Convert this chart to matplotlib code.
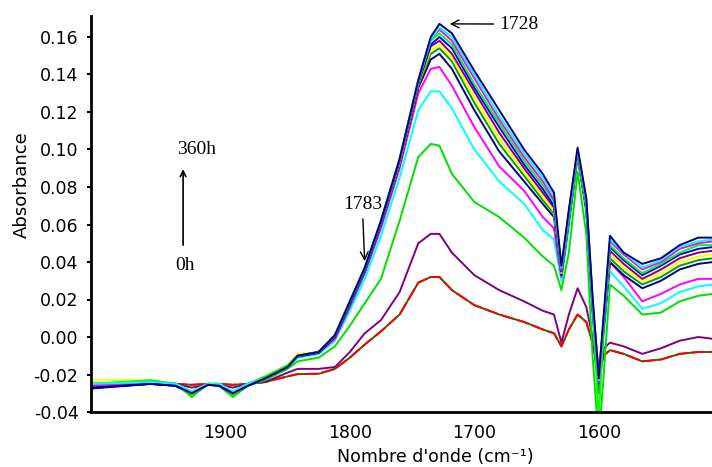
import matplotlib.pyplot as plt

wavenumber = [2008, 1960, 1940, 1927, 1914, 1905, 1894, 1882, 1868, 1850,
              1842, 1825, 1812, 1800, 1788, 1775, 1760, 1745, 1735, 1728,
              1718, 1700, 1680, 1660, 1645, 1636, 1630, 1624, 1617, 1610,
              1605, 1600, 1596, 1591, 1580, 1565, 1550, 1535, 1520, 1508]

# absorbance spectra, from 0h up to 360h
abs_0h = [-0.025, -0.025, -0.025, -0.0255, -0.025, -0.025, -0.0255, -0.025, -0.024, -0.021,
          -0.0198, -0.0196, -0.017, -0.011, -0.004, 0.003, 0.012, 0.029, 0.032, 0.032,
          0.025, 0.017, 0.012, 0.008, 0.004, 0.002, -0.005, 0.004, 0.012, 0.008,
          -0.003, -0.019, -0.010, -0.007, -0.009, -0.013, -0.012, -0.009, -0.008, -0.008]
abs_purple = [-0.025, -0.0245, -0.025, -0.027, -0.0255, -0.0255, -0.027, -0.025, -0.024, -0.019,
              -0.017, -0.017, -0.016, -0.008, 0.002, 0.009, 0.024, 0.050, 0.055, 0.055,
              0.045, 0.033, 0.025, 0.019, 0.014, 0.012, -0.003, 0.012, 0.026, 0.016,
              0.000, -0.028, -0.006, -0.003, -0.005, -0.009, -0.006, -0.002, 0.000, -0.001]
abs_lime = [-0.025, -0.024, -0.025, -0.032, -0.025, -0.026, -0.032, -0.026, -0.023, -0.017,
            -0.013, -0.011, -0.005, 0.006, 0.018, 0.031, 0.062, 0.096, 0.103, 0.102,
            0.087, 0.072, 0.064, 0.053, 0.043, 0.038, 0.025, 0.045, 0.088, 0.055,
            -0.010, -0.055, -0.020, 0.028, 0.022, 0.012, 0.013, 0.019, 0.022, 0.023]
abs_cyan = [-0.025, -0.0235, -0.025, -0.030, -0.025, -0.025, -0.030, -0.025, -0.022, -0.016,
            -0.011, -0.009, -0.002, 0.014, 0.031, 0.054, 0.085, 0.121, 0.131, 0.131,
            0.122, 0.100, 0.083, 0.071, 0.057, 0.052, 0.030, 0.058, 0.096, 0.065,
            0.010, -0.030, 0.000, 0.035, 0.027, 0.015, 0.018, 0.024, 0.027, 0.028]
abs_magenta = [-0.026, -0.025, -0.026, -0.030, -0.0255, -0.026, -0.030, -0.025, -0.022, -0.016,
               -0.010, -0.0085, -0.001, 0.016, 0.034, 0.058, 0.090, 0.130, 0.143, 0.144,
               0.134, 0.112, 0.091, 0.078, 0.064, 0.058, 0.032, 0.062, 0.098, 0.068,
               0.015, -0.025, 0.005, 0.040, 0.032, 0.019, 0.023, 0.028, 0.031, 0.031]
abs_c1 = [-0.0275, -0.025, -0.026, -0.030, -0.0255, -0.026, -0.030, -0.026, -0.022, -0.016,
          -0.0105, -0.0085, 0.000, 0.017, 0.035, 0.060, 0.092, 0.133, 0.148, 0.151,
          0.143, 0.121, 0.099, 0.083, 0.071, 0.064, 0.033, 0.062, 0.096, 0.068,
          0.015, -0.022, 0.005, 0.040, 0.033, 0.026, 0.030, 0.036, 0.039, 0.040]
abs_c2 = [-0.026, -0.024, -0.025, -0.031, -0.025, -0.026, -0.031, -0.025, -0.022, -0.016,
          -0.010, -0.008, 0.000, 0.017, 0.035, 0.060, 0.093, 0.134, 0.151, 0.154,
          0.147, 0.125, 0.103, 0.086, 0.073, 0.066, 0.034, 0.063, 0.097, 0.069,
          0.016, -0.030, 0.006, 0.042, 0.035, 0.028, 0.032, 0.038, 0.041, 0.042]
abs_c3 = [-0.023, -0.023, -0.025, -0.029, -0.025, -0.025, -0.029, -0.025, -0.021, -0.015,
          -0.009, -0.008, 0.001, 0.018, 0.036, 0.061, 0.093, 0.135, 0.153, 0.156,
          0.149, 0.128, 0.106, 0.088, 0.075, 0.067, 0.034, 0.064, 0.097, 0.070,
          0.017, -0.021, 0.007, 0.044, 0.037, 0.030, 0.034, 0.040, 0.043, 0.044]
abs_c4 = [-0.026, -0.025, -0.025, -0.030, -0.025, -0.026, -0.030, -0.025, -0.022, -0.016,
          -0.010, -0.008, 0.000, 0.018, 0.036, 0.061, 0.094, 0.135, 0.155, 0.158,
          0.151, 0.131, 0.109, 0.090, 0.077, 0.069, 0.035, 0.065, 0.098, 0.071,
          0.018, -0.025, 0.008, 0.046, 0.039, 0.031, 0.036, 0.042, 0.045, 0.046]
abs_c5 = [-0.027, -0.025, -0.026, -0.030, -0.025, -0.026, -0.030, -0.026, -0.022, -0.016,
          -0.010, -0.008, 0.001, 0.018, 0.036, 0.061, 0.094, 0.136, 0.156, 0.160,
          0.154, 0.133, 0.112, 0.092, 0.079, 0.070, 0.035, 0.066, 0.099, 0.072,
          0.019, -0.020, 0.009, 0.048, 0.041, 0.033, 0.038, 0.044, 0.047, 0.048]
abs_c6 = [-0.025, -0.023, -0.025, -0.031, -0.025, -0.025, -0.031, -0.025, -0.021, -0.015,
          -0.010, -0.008, 0.001, 0.019, 0.037, 0.062, 0.095, 0.136, 0.158, 0.162,
          0.156, 0.135, 0.114, 0.094, 0.081, 0.072, 0.036, 0.066, 0.099, 0.072,
          0.020, -0.045, 0.010, 0.049, 0.042, 0.034, 0.039, 0.045, 0.049, 0.049]
abs_c7 = [-0.026, -0.024, -0.025, -0.030, -0.025, -0.026, -0.030, -0.025, -0.022, -0.016,
          -0.010, -0.008, 0.001, 0.019, 0.037, 0.062, 0.095, 0.137, 0.159, 0.164,
          0.158, 0.138, 0.116, 0.096, 0.083, 0.073, 0.036, 0.067, 0.100, 0.073,
          0.020, -0.024, 0.010, 0.051, 0.044, 0.036, 0.040, 0.047, 0.050, 0.051]
abs_c8 = [-0.025, -0.024, -0.025, -0.029, -0.025, -0.025, -0.029, -0.025, -0.022, -0.016,
          -0.010, -0.008, 0.001, 0.019, 0.037, 0.062, 0.095, 0.137, 0.159, 0.165,
          0.160, 0.140, 0.118, 0.098, 0.085, 0.075, 0.037, 0.067, 0.100, 0.073,
          0.021, -0.023, 0.011, 0.052, 0.045, 0.037, 0.041, 0.048, 0.051, 0.052]
abs_360h = [-0.0272, -0.025, -0.026, -0.030, -0.0255, -0.026, -0.030, -0.026, -0.022, -0.016,
            -0.010, -0.008, 0.001, 0.019, 0.037, 0.062, 0.095, 0.137, 0.160, 0.167,
            0.162, 0.142, 0.121, 0.100, 0.087, 0.077, 0.038, 0.068, 0.101, 0.074,
            0.022, -0.022, 0.012, 0.054, 0.045, 0.039, 0.042, 0.049, 0.053, 0.053]

y_ticks = [-0.04, -0.02, 0.00, 0.02, 0.04, 0.06, 0.08, 0.10, 0.12, 0.14, 0.16]
x_ticks = [1900, 1800, 1700, 1600]

spectra = [abs_purple, abs_lime, abs_cyan, abs_magenta, abs_c1, abs_c2, abs_c3,
           abs_c4, abs_c5, abs_c6, abs_c7, abs_c8, abs_360h]
colors = ['#800080', '#00e000', '#00ffff', '#ff00ff', '#000080', '#00a000', '#ffff00',
          '#800080', '#0000ff', '#00ff00', '#ff00ff', '#00ffff', '#000080']

fig = plt.figure(figsize=(7.12, 4.67), dpi=100)
ax = fig.add_axes([91 / 712, 55 / 467, 621 / 712, 396 / 467])

# 0h curve: dark green underneath red
ax.plot(wavenumber, abs_0h, color='#008000', lw=1.4)
ax.plot(wavenumber, abs_0h, color='#ff0000', lw=1.4, dashes=(7, 1.5))
for s, c in zip(spectra, colors):
    ax.plot(wavenumber, s, color=c, lw=1.4)

ax.set_xlim(2008, 1509)
ax.set_ylim(-0.04, 0.1712)
ax.set_yticks(y_ticks)
ax.set_yticklabels([f'{v:.2f}' for v in y_ticks])
ax.set_xticks(x_ticks)
ax.tick_params(axis='y', length=3, width=1.5, pad=6, labelsize=12.5)
ax.tick_params(axis='x', length=0, pad=9, labelsize=12.5)
for side in ['top', 'right']:
    ax.spines[side].set_visible(False)
for side in ['left', 'bottom']:
    ax.spines[side].set_linewidth(2)

serif = 'Liberation Serif'
ax.annotate('1728', xy=(1722, 0.167), xytext=(1680, 0.1669), fontfamily=serif, fontsize=14,
            ha='left', va='center', arrowprops=dict(arrowstyle='->', lw=1, color='black'))
ax.annotate('1783', xy=(1788, 0.039), xytext=(1790, 0.0705), fontfamily=serif, fontsize=14,
            ha='center', va='center', arrowprops=dict(arrowstyle='->', lw=1, color='black'))
ax.annotate('', xy=(1934, 0.091), xytext=(1934, 0.0475),
            arrowprops=dict(arrowstyle='->', lw=1.2, color='black'))
ax.text(1923, 0.0998, '360h', fontfamily=serif, fontsize=14, ha='center', va='center')
ax.text(1932.5, 0.038, '0h', fontfamily=serif, fontsize=14, ha='center', va='center')

fig.text(22 / 712, 1 - 185 / 467, 'Absorbance', rotation=90, ha='center', va='center', fontsize=13)
fig.text(435 / 712, 1 - 457 / 467, "Nombre d'onde (cm⁻¹)", ha='center', va='center', fontsize=12.5)

plt.savefig('out.png', dpi=100)
plt.close()
